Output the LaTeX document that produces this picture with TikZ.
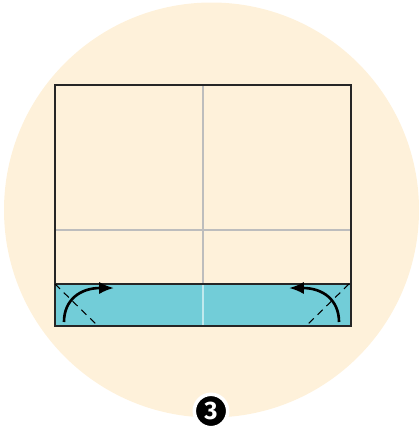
\documentclass[tikz,border=0pt]{standalone}
\usepackage{fontspec}
\setsansfont{Fira Sans}
\usetikzlibrary{arrows.meta}
\definecolor{paper}{HTML}{FEF1DA}
\definecolor{foldblue}{HTML}{72CDD8}
\definecolor{crease}{HTML}{BDBDBD}
\begin{document}
\begin{tikzpicture}[x=0.02cm, y=-0.02cm]
    \useasboundingbox (0,0) rectangle (419,443);

    % Background disc
    \fill[paper] (211.5,210) circle (207.5);

    % The sheet, with the folded strip at the bottom
    \fill[paper] (55,85) rectangle (351,326);
    \fill[foldblue] (55,284) rectangle (351,326);

    % Creases
    \draw[crease, line width=1.2pt] (55,230) -- (351,230);
    \draw[crease, line width=1.2pt] (203,85) -- (203,284);
    \draw[white!55!foldblue, line width=1.2pt] (203,284) -- (203,326);

    % Outline of the sheet and edge of the strip
    \draw[black!85, line width=1pt] (55,85) rectangle (351,326);
    \draw[black!85, line width=1pt] (55,284) -- (351,284);

    % Corner folds (dashed valley lines)
    \draw[dash pattern=on 4pt off 3pt, line width=0.6pt] (55,284) -- (98,326);
    \draw[dash pattern=on 4pt off 3pt, line width=0.6pt] (349,284) -- (306,326);

    % Fold arrows
    \draw[line width=1.5pt, -{Latex[length=8.5pt,width=7pt]}]
        (64,322) .. controls (64,300) and (80,288) .. (114,288);
    \draw[line width=1.5pt, -{Latex[length=8.5pt,width=7pt]}]
        (339,322) .. controls (339,300) and (323,288) .. (289,288);

    % Step number
    \node[circle, fill=black, draw=white, line width=2pt, minimum size=19pt,
          inner sep=0pt, text=white, font=\sffamily\bfseries\Large] (stepno) at (211,411) {3};
\end{tikzpicture}
\end{document}
